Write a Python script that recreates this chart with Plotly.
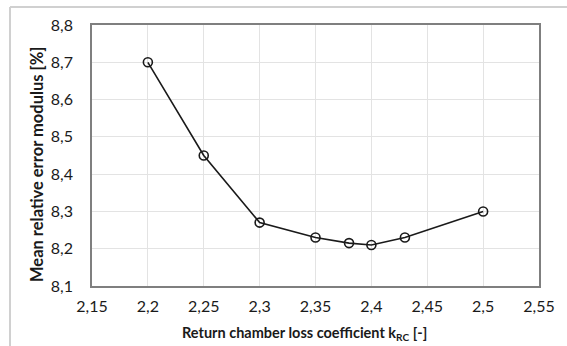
import plotly.graph_objects as go

k_rc = [2.2, 2.25, 2.3, 2.35, 2.38, 2.4, 2.43, 2.5]
mean_error = [8.70, 8.45, 8.27, 8.23, 8.215, 8.21, 8.23, 8.30]

x_tick_vals = [2.15, 2.2, 2.25, 2.3, 2.35, 2.4, 2.45, 2.5, 2.55]
x_tick_text = ["2,15", "2,2", "2,25", "2,3", "2,35", "2,4", "2,45", "2,5", "2,55"]
y_tick_vals = [8.1, 8.2, 8.3, 8.4, 8.5, 8.6, 8.7, 8.8]
y_tick_text = ["8,1", "8,2", "8,3", "8,4", "8,5", "8,6", "8,7", "8,8"]

x_title = "<b>Return chamber loss coefficient k<sub>RC</sub> [-]</b>"
y_title = "<b>Mean relative error modulus [%]</b>"

W, H = 567, 346
L, R, T, B = 92, 28, 25, 60
pw, ph = W - L - R, H - T - B

def px2x(px):
    return (px - L) / pw

def px2y(py):
    return (H - B - py) / ph

fig = go.Figure()
fig.add_trace(go.Scatter(
    x=k_rc, y=mean_error, mode="lines+markers",
    line=dict(color="#1a1a1a", width=1.6),
    marker=dict(symbol="circle-open", size=9, color="#1a1a1a", line=dict(width=1.6)),
    showlegend=False,
))

font_family = "Lato, 'Open Sans', sans-serif"
fig.update_layout(
    width=W, height=H,
    margin=dict(l=L, r=R, t=T, b=B),
    paper_bgcolor="white", plot_bgcolor="white",
    font=dict(family=font_family, size=16, color="#1a1a1a"),
    shapes=[
        dict(type="line", xref="paper", yref="paper", layer="above",
             x0=px2x(10), x1=px2x(567), y0=px2y(7), y1=px2y(7),
             line=dict(color="#d0d0d0", width=2)),
        dict(type="line", xref="paper", yref="paper", layer="above",
             x0=px2x(10), x1=px2x(10), y0=px2y(7), y1=px2y(346),
             line=dict(color="#d0d0d0", width=2)),
    ],
    annotations=[
        dict(text=x_title, xref="paper", yref="paper", x=px2x(304), y=px2y(333),
             xanchor="center", yanchor="middle", showarrow=False,
             font=dict(size=14.5)),
        dict(text=y_title, xref="paper", yref="paper", x=px2x(37), y=px2y(164),
             xanchor="center", yanchor="middle", showarrow=False, textangle=-90,
             font=dict(size=16.5)),
    ],
)
fig.update_xaxes(
    range=[2.15, 2.55], tickvals=x_tick_vals, ticktext=x_tick_text,
    showgrid=True, gridcolor="#e3e3e3", gridwidth=1,
    showline=True, linecolor="#7f7f7f", linewidth=1.5, mirror=True,
    ticks="", ticklabelstandoff=5, zeroline=False, automargin=False,
    tickfont=dict(size=16),
)
fig.update_yaxes(
    range=[8.1, 8.8], tickvals=y_tick_vals, ticktext=y_tick_text,
    showgrid=True, gridcolor="#e3e3e3", gridwidth=1,
    showline=True, linecolor="#7f7f7f", linewidth=1.5, mirror=True,
    ticks="", ticklabelstandoff=14, zeroline=False, automargin=False,
    tickfont=dict(size=16),
)

fig.write_html("out.html", config={"displayModeBar": False},
               post_script="document.body.style.margin='0';document.body.style.padding='0';")
